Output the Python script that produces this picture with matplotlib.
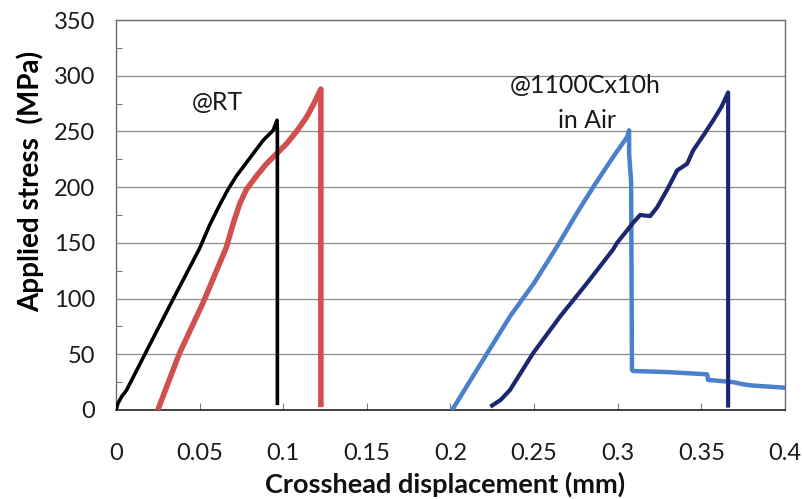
import matplotlib
matplotlib.use("Agg")
import matplotlib.pyplot as plt
from matplotlib.ticker import MultipleLocator, FuncFormatter

plt.rcParams['font.family'] = ['Lato', 'DejaVu Sans']

# Room-temperature specimen 1 (black)
rt1_x = [0.0, 0.0012, 0.0034, 0.0064, 0.020, 0.034, 0.050, 0.056, 0.062, 0.067,
         0.072, 0.077, 0.082, 0.088, 0.094, 0.0963, 0.0965, 0.0965]
rt1_y = [0, 6, 12, 18, 58, 99, 145, 166, 184, 198, 210, 220, 230, 242, 251, 260, 250, 6]

# Room-temperature specimen 2 (red)
rt2_x = [0.025, 0.038, 0.052, 0.066, 0.070, 0.074, 0.078, 0.084, 0.090, 0.096,
         0.102, 0.108, 0.114, 0.118, 0.1225, 0.1225]
rt2_y = [0, 51, 96, 146, 167, 185, 198, 210, 221, 230, 239, 250, 263, 274, 288, 5]

# After 1100C x 10h in air, specimen 1 (light blue)
ox1_x = [0.2010, 0.2195, 0.2356, 0.2500, 0.2630, 0.2757, 0.2853, 0.2972, 0.3056,
         0.3068, 0.3068, 0.3080, 0.3085, 0.3092, 0.3300, 0.3535, 0.3540, 0.3690,
         0.3750, 0.3800, 0.3900, 0.4000]
ox1_y = [0, 45, 84, 114, 145, 177, 200, 227, 245, 251, 230, 205, 36, 35, 34, 32,
         27, 25, 23, 22, 21, 20]

# After 1100C x 10h in air, specimen 2 (navy)
ox2_x = [0.2249, 0.2300, 0.2356, 0.2494, 0.2656, 0.2817, 0.2972, 0.2996, 0.3092,
         0.3134, 0.3194, 0.3236, 0.3300, 0.3355, 0.3415, 0.3451, 0.3510, 0.3571,
         0.3620, 0.3660, 0.3660]
ox2_y = [4, 9, 18, 51, 84, 114, 144, 150, 168, 175, 174, 182, 199, 215, 221, 233,
         246, 260, 272, 285, 4]

x_ticks = [0, 0.05, 0.1, 0.15, 0.2, 0.25, 0.3, 0.35, 0.4]
y_ticks = [0, 50, 100, 150, 200, 250, 300, 350]

fig = plt.figure(figsize=(8.02, 4.99), dpi=100)
ax = fig.add_axes([0.1446, 0.1784, 0.8342, 0.7815])

ax.plot(rt1_x, rt1_y, color='black', lw=2.6, solid_joinstyle='round', zorder=4)
ax.plot(rt2_x, rt2_y, color='#D0504F', lw=4.0, solid_joinstyle='round', zorder=3)
ax.plot(ox1_x, ox1_y, color='#4A80CC', lw=3.2, solid_joinstyle='round', zorder=3)
ax.plot(ox2_x, ox2_y, color='#1B2870', lw=3.0, solid_joinstyle='round', zorder=4)

ax.set_xlim(0, 0.4)
ax.set_ylim(0, 350)
ax.set_xticks(x_ticks)
ax.set_yticks(y_ticks)
ax.xaxis.set_major_formatter(FuncFormatter(lambda v, p: ('%g' % round(v, 3))))
ax.yaxis.set_minor_locator(MultipleLocator(25))

ax.grid(axis='y', which='major', color='#8c8c8c', lw=0.9)
ax.set_axisbelow(True)

ax.tick_params(axis='x', which='major', direction='in', length=5, width=0.8,
               colors='#7f7f7f', labelcolor='#1a1a1a', labelsize=17, pad=24)
ax.tick_params(axis='y', which='major', length=0, labelcolor='#1a1a1a',
               labelsize=17, pad=15)
ax.tick_params(axis='y', which='minor', direction='in', length=4, width=0.8,
               colors='#7f7f7f')

for side in ['top', 'right', 'left']:
    ax.spines[side].set_color('#6e6e6e')
    ax.spines[side].set_linewidth(1.0)
ax.spines['bottom'].set_color('#222222')
ax.spines['bottom'].set_linewidth(1.2)

# Axis titles
fig.text(0.555, 0.030, 'Crosshead displacement (mm)', fontsize=19.5,
         fontweight='bold', ha='center', va='center', color='#111111')
ax.set_ylabel('Applied stress  (MPa)', fontsize=20, fontweight='bold')
ax.yaxis.set_label_coords(-0.107, 0.587)

ax.text(0.0604, 276, '@RT', fontsize=18, ha='center', va='center', color='#1a1a1a')
ax.text(0.2805, 291, '@1100Cx10h', fontsize=18, ha='center', va='center',
        color='#1a1a1a')
ax.text(0.2817, 260, 'in Air', fontsize=18, ha='center', va='center',
        color='#1a1a1a')

fig.savefig('out.png', dpi=100)
